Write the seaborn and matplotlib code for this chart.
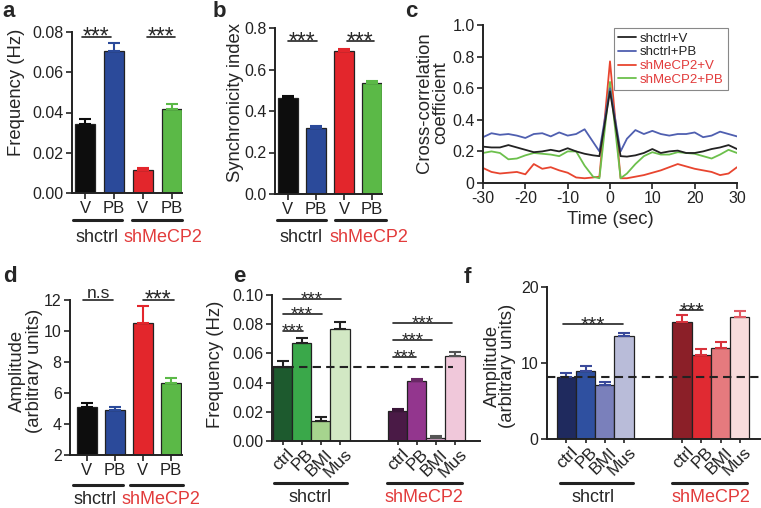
import numpy as np
import pandas as pd
import matplotlib
matplotlib.use('Agg')
import matplotlib.pyplot as plt
import matplotlib.transforms as mtransforms
import seaborn as sns

# panels a, b, d: vehicle / PB in shctrl and shMeCP2 cultures
conds = ['shctrl+V', 'shctrl+PB', 'shMeCP2+V', 'shMeCP2+PB']
treat_labels = ['V', 'PB', 'V', 'PB']
bar_colors = ['#0d0d0d', '#2b4a9a', '#e3262c', '#5bb947']

freq_mean = [0.0341, 0.0704, 0.0114, 0.0418]
freq_sem = [0.0025, 0.0042, 0.0011, 0.0023]

sync_mean = [0.461, 0.319, 0.689, 0.534]
sync_sem = [0.012, 0.011, 0.011, 0.009]

amp_mean = [5.07, 4.88, 10.54, 6.62]
amp_sem = [0.28, 0.20, 1.09, 0.32]

# panel c: cross-correlation vs lag
lag_sec = [-30, -28, -26, -24, -22, -20, -18, -16, -14, -12, -10, -8, -6, -4, -2.5,
           0, 2.5, 4, 6, 8, 10, 12, 14, 16, 18, 20, 22, 24, 26, 28, 30]
cc_shctrl_v = [0.23, 0.225, 0.225, 0.24, 0.225, 0.21, 0.195, 0.20, 0.21, 0.20, 0.22, 0.20, 0.185, 0.175, 0.17,
               0.58, 0.17, 0.167, 0.175, 0.19, 0.215, 0.19, 0.20, 0.205, 0.19, 0.19, 0.20, 0.215, 0.225, 0.24, 0.215]
cc_shctrl_pb = [0.29, 0.315, 0.305, 0.31, 0.30, 0.285, 0.31, 0.315, 0.295, 0.32, 0.30, 0.31, 0.34, 0.26, 0.20,
                0.60, 0.20, 0.28, 0.335, 0.31, 0.33, 0.31, 0.30, 0.31, 0.31, 0.32, 0.29, 0.30, 0.325, 0.31, 0.295]
cc_shmecp2_v = [0.095, 0.07, 0.06, 0.065, 0.07, 0.055, 0.12, 0.09, 0.10, 0.08, 0.065, 0.035, 0.03, 0.035, 0.04,
                0.77, 0.03, 0.03, 0.04, 0.05, 0.065, 0.08, 0.10, 0.12, 0.105, 0.09, 0.08, 0.07, 0.05, 0.06, 0.10]
cc_shmecp2_pb = [0.19, 0.20, 0.19, 0.15, 0.155, 0.175, 0.19, 0.185, 0.18, 0.17, 0.20, 0.20, 0.11, 0.04, 0.03,
                 0.64, 0.03, 0.06, 0.12, 0.17, 0.195, 0.18, 0.18, 0.195, 0.19, 0.185, 0.17, 0.155, 0.18, 0.21, 0.19]
line_colors = ['#222222', '#4f5fb0', '#e8452f', '#6cc04c']

# panels e, f: drug treatments
drugs = ['ctrl', 'PB', 'BMI', 'Mus']
freq2_shctrl = [0.0505, 0.0673, 0.0135, 0.0765]
freq2_shctrl_sem = [0.0041, 0.0033, 0.0032, 0.0052]
freq2_shmecp2 = [0.0205, 0.0412, 0.0020, 0.0580]
freq2_shmecp2_sem = [0.0014, 0.0014, 0.0014, 0.0028]
e_colors = ['#1d5a2e', '#3aa84a', '#a6d48e', '#d2e8c4', '#4a1a46', '#93368e', '#d9a9ce', '#f0c8da']
e_err = ['#222222'] * 4 + ['#3a1538', '#6a2866', '#555555', '#555555']

amp2_shctrl = [8.2, 8.95, 7.12, 13.58]
amp2_shctrl_sem = [0.53, 0.65, 0.35, 0.39]
amp2_shmecp2 = [15.33, 11.0, 12.0, 16.0]
amp2_shmecp2_sem = [0.96, 0.80, 0.80, 0.86]
f_colors = ['#1f2a5e', '#2f50a0', '#7a80bb', '#b9bcd9', '#8b1f28', '#e02a32', '#e57a7e', '#f8dcdc']
f_err = ['#3a4a9a'] * 4 + ['#d8323c', '#d8323c', '#d8323c', '#e05a64']

RED = '#e23b3b'
W, H = 761, 508

sns.set_theme(style='ticks')
plt.rcParams['font.family'] = ['Liberation Sans', 'DejaVu Sans']
plt.rcParams['axes.unicode_minus'] = False
plt.rcParams['axes.linewidth'] = 1.4
plt.rcParams['axes.edgecolor'] = '#222222'
plt.rcParams['xtick.color'] = '#222222'
plt.rcParams['ytick.color'] = '#222222'

fig = plt.figure(figsize=(7.61, 5.08), dpi=100)


def add_ax(x0, y0, x1, y1):
    return fig.add_axes([x0 / W, 1 - y1 / H, (x1 - x0) / W, (y1 - y0) / H])


def style(ax):
    sns.despine(ax=ax)
    ax.tick_params(labelsize=11.5, length=4, width=1.2, pad=2)
    ax.set_xlabel('')
    ax.set_ylabel('')


def bars(ax, names, means, sems, colors, errc, width, order=None):
    df = pd.DataFrame({'cond': names, 'value': means})
    sns.barplot(data=df, x='cond', y='value', hue='cond', order=order, hue_order=names,
                palette=colors, width=width, saturation=1, edgecolor='#222222',
                linewidth=0.9, errorbar=None, legend=False, dodge=False, ax=ax)
    pos = [list(order or names).index(n) for n in names]
    for p, m, s, c in zip(pos, means, sems, errc):
        ax.errorbar(p, m, yerr=[[0], [s]], fmt='none', ecolor=c, elinewidth=1.5,
                    capsize=4.5, capthick=1.5, zorder=1)
    return pos


def sig(ax, x0, x1, y, text='***', fs=16.5):
    ax.plot([x0, x1], [y, y], color='#222222', lw=1.2, clip_on=False)
    off = -0.3 * fs if text == '***' else 1.5
    ax.annotate(text, ((x0 + x1) / 2, y), xytext=(0, off), textcoords='offset points',
                ha='center', va='baseline', fontsize=fs if text == '***' else 12.5,
                annotation_clip=False)


def group_line(x0, x1, y):
    fig.add_artist(plt.Line2D([x0 / W, x1 / W], [1 - y / H] * 2, color='#222222', lw=2.2))


def ftext(x, y, s, **kw):
    fig.text(x / W, 1 - y / H, s, **kw)


def drug_ticks(ax, pos):
    ax.set_xticks(pos, drugs * 2, rotation=45, ha='right', va='top', rotation_mode='anchor')
    ax.tick_params(axis='x', labelsize=12.5, length=3, pad=1)
    shift = mtransforms.ScaledTranslation(4 / 100, 0, fig.dpi_scale_trans)
    for lab in ax.get_xticklabels():
        lab.set_transform(lab.get_transform() + shift)


# ---- panel a
ax = add_ax(72, 32, 182, 193)
pos = bars(ax, conds, freq_mean, freq_sem, bar_colors, bar_colors, 0.7)
ax.set_xticks(pos, treat_labels)
ax.set_xlim(-0.45, 3.35)
ax.set_ylim(0, 0.08)
ax.set_yticks([0, 0.02, 0.04, 0.06, 0.08], ['0.00', '0.02', '0.04', '0.06', '0.08'])
style(ax)
ax.tick_params(axis='x', labelsize=12)
sig(ax, -0.12, 0.88, 0.0775)
sig(ax, 2.15, 3.1, 0.0775)

# ---- panel b
ax = add_ax(275, 28, 382, 194)
pos = bars(ax, conds, sync_mean, sync_sem, bar_colors, bar_colors, 0.7)
ax.set_xticks(pos, treat_labels)
ax.set_xlim(-0.45, 3.35)
ax.set_ylim(0, 0.8)
ax.set_yticks([0, 0.2, 0.4, 0.6, 0.8], ['0.0', '0.2', '0.4', '0.6', '0.8'])
style(ax)
ax.tick_params(axis='x', labelsize=12)
sig(ax, 0.0, 1.05, 0.735)
sig(ax, 2.1, 3.05, 0.735)

# ---- panel c
ax = add_ax(483, 25, 737, 183)
series = [cc_shctrl_v, cc_shctrl_pb, cc_shmecp2_v, cc_shmecp2_pb]
for i in [2, 3, 1, 0]:
    sns.lineplot(x=lag_sec, y=series[i], color=line_colors[i], linewidth=1.3, ax=ax, label=conds[i])
hs, ls = ax.get_legend_handles_labels()
hmap = dict(zip(ls, hs))
ax.legend([hmap[c] for c in conds], conds, loc='upper right', bbox_to_anchor=(0.99, 1.02),
          fontsize=9.5, frameon=True, fancybox=False, edgecolor='#888888', framealpha=1,
          handlelength=1.4, handletextpad=0.3, labelspacing=0.12, borderpad=0.3,
          labelcolor=['#222222', '#222222', RED, RED])
ax.get_legend().get_frame().set_linewidth(0.8)
ax.set_xlim(-30, 30)
ax.set_ylim(0, 1.0)
ax.set_xticks([-30, -20, -10, 0, 10, 20, 30])
ax.set_yticks([0, 0.2, 0.4, 0.6, 0.8, 1.0], ['0', '0.2', '0.4', '0.6', '0.8', '1.0'])
style(ax)
ftext(610, 220, 'Time (sec)', ha='center', va='center', fontsize=13.3)

# ---- panel d
ax = add_ax(70, 300, 182, 455)
pos = bars(ax, conds, amp_mean, amp_sem, bar_colors, bar_colors, 0.72)
ax.set_xticks(pos, treat_labels)
ax.set_xlim(-0.6, 3.4)
ax.set_ylim(2, 12)
ax.set_yticks([2, 4, 6, 8, 10, 12])
style(ax)
ax.tick_params(axis='x', labelsize=12)
sig(ax, -0.15, 0.95, 12, 'n.s')
sig(ax, 2.0, 3.1, 12)

# ---- panel e
order = [f'shctrl {d}' for d in drugs] + ['gap1', 'gap2'] + [f'shMeCP2 {d}' for d in drugs]
names = [f'shctrl {d}' for d in drugs] + [f'shMeCP2 {d}' for d in drugs]
ax = add_ax(272, 295, 480, 441)
pos = bars(ax, names, freq2_shctrl + freq2_shmecp2, freq2_shctrl_sem + freq2_shmecp2_sem,
           e_colors, e_err, 1.0, order=order)
ax.axhline(freq2_shctrl[0], xmin=0, xmax=0.87, color='#222222', lw=1.5, ls=(0, (4, 2.5)), zorder=5)
ax.set_xlim(-0.55, 10.3)
ax.set_ylim(0, 0.10)
ax.set_yticks([0, 0.02, 0.04, 0.06, 0.08, 0.10], ['0.00', '0.02', '0.04', '0.06', '0.08', '0.10'])
style(ax)
drug_ticks(ax, pos)
for y, j in [(0.0975, 3), (0.0869, 2), (0.0755, 1)]:
    sig(ax, 0.0, j + 0.05, y, fs=13.5)
for y, j in [(0.0807, 8.85), (0.0692, 7.8), (0.0574, 6.95)]:
    sig(ax, 5.75, j, y, fs=13.5)

# ---- panel f
ax = add_ax(547, 287, 761, 439)
pos = bars(ax, names, amp2_shctrl + amp2_shmecp2, amp2_shctrl_sem + amp2_shmecp2_sem,
           f_colors, f_err, 1.0, order=order)
ax.axhline(amp2_shctrl[0], color='#222222', lw=1.5, ls=(0, (4, 2.5)), zorder=5)
ax.set_xlim(-1.0, 10.1)
ax.set_ylim(0, 20)
ax.set_yticks([0, 10, 20])
style(ax)
drug_ticks(ax, pos)
sig(ax, -0.15, 2.95, 15.1, fs=15)
sig(ax, 5.9, 7.1, 16.95, fs=15)

# ---- y labels
ftext(17, 92, 'Frequency (Hz)', rotation=90, ha='center', va='center', fontsize=13.3)
ftext(236, 103, 'Synchronicity index', rotation=90, ha='center', va='center', fontsize=13.3)
ftext(433, 103, 'Cross-correlation\ncoefficient', rotation=90, ha='center', va='center',
      fontsize=13.3, linespacing=0.95, multialignment='center')
ftext(26, 371, 'Amplitude\n(arbitrary units)', rotation=90, ha='center', va='center',
      fontsize=13.3, linespacing=1.0, multialignment='center')
ftext(215, 364, 'Frequency (Hz)', rotation=90, ha='center', va='center', fontsize=13.3)
ftext(500, 366, 'Amplitude\n(arbitrary units)', rotation=90, ha='center', va='center',
      fontsize=13.3, linespacing=0.85, multialignment='center')

# ---- group bars under the x axes
for (x0, x1), (x2, x3), y, ly, c1, c2 in [
        ((73, 122), (132, 182), 220, 238, 97, 123),
        ((277, 326), (335, 386), 220, 238, 301, 330),
        ((73, 123), (130, 183), 485, 500, 95.5, 122)]:
    group_line(x0, x1, y)
    group_line(x2, x3, y)
    ftext(c1, ly, 'shctrl', ha='center', va='center', fontsize=13)
    ftext(c2, ly, 'shMeCP2', ha='left', va='center', fontsize=13, color=RED)
for (x0, x1), (x2, x3), c1, c2 in [((274, 347), (387, 462), 310, 424),
                                   ((560, 633), (672, 747), 593, 711)]:
    group_line(x0, x1, 483)
    group_line(x2, x3, 483)
    ftext(c1, 498, 'shctrl', ha='center', va='center', fontsize=13)
    ftext(c2, 498, 'shMeCP2', ha='center', va='center', fontsize=13, color=RED)

# ---- panel letters
for letter, x, y in [('a', 2, 17), ('b', 213, 17), ('c', 405, 17),
                     ('d', 3, 282), ('e', 233, 282), ('f', 464, 283)]:
    ftext(x, y, letter, fontsize=16, fontweight='bold', va='baseline')

fig.savefig('out.png', dpi=100)
